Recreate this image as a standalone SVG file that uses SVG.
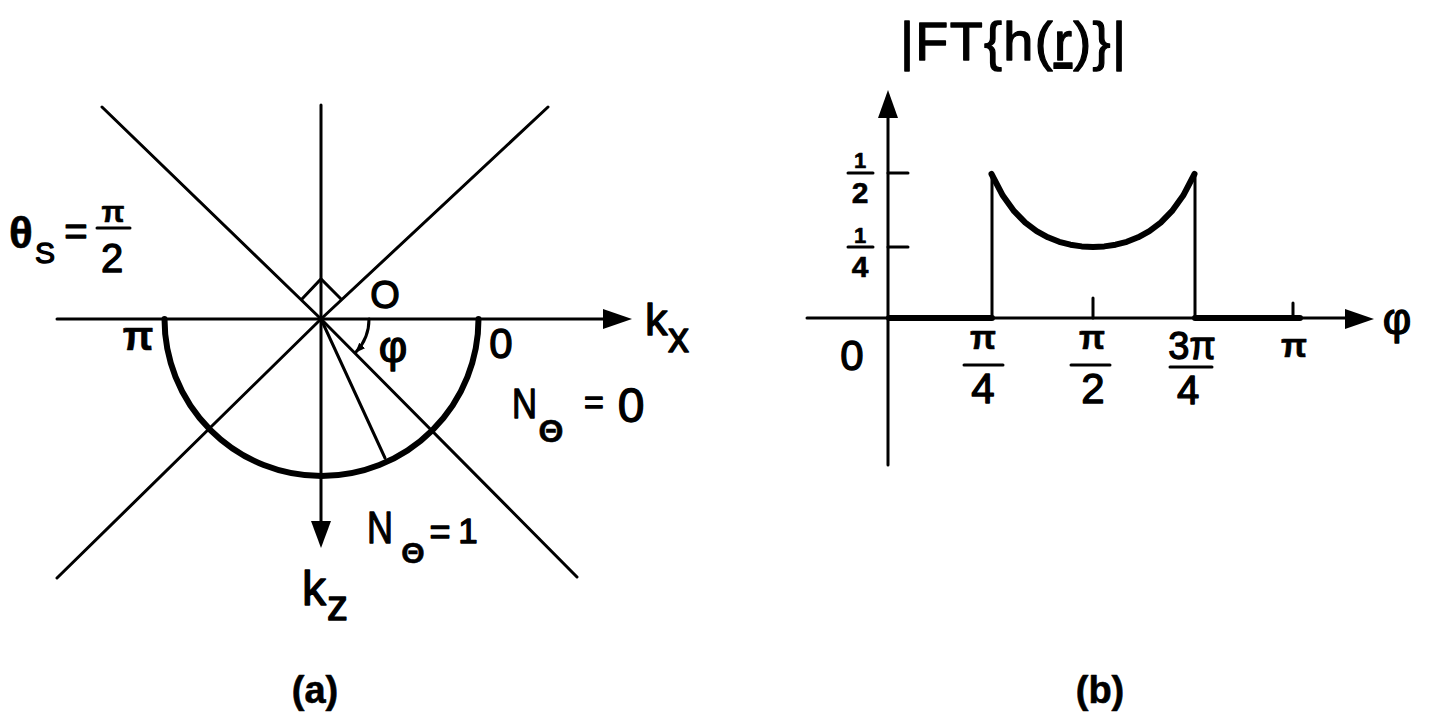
<svg xmlns="http://www.w3.org/2000/svg" width="1434" height="721" viewBox="0 0 1434 721">
<style>
.t{font-family:"Liberation Sans",Arial,sans-serif;fill:#000;stroke:#000;stroke-width:1.3;stroke-linejoin:round}
.b{font-weight:bold;stroke-width:0.6}
.m{text-anchor:middle}
.ln{stroke:#000;stroke-width:3;fill:none;stroke-linecap:round}
.th{stroke:#000;stroke-width:6;fill:none;stroke-linecap:round;stroke-linejoin:round}
</style>
<defs>
<marker id="ah" markerWidth="10" markerHeight="8" refX="9" refY="4" orient="auto" markerUnits="userSpaceOnUse"><path d="M0,0 L10,4 L0,8 Z" fill="#000"/></marker>
</defs>
<rect width="1434" height="721" fill="#fff"/>

<g id="diagram-a">
  <g id="a-lines">
    <line class="ln" x1="57" y1="319" x2="606" y2="319"/>
    <polygon points="632,319 603,309 603,329" fill="#000"/>
    <line class="ln" x1="321" y1="105" x2="321" y2="525"/>
    <polygon points="321,548 311,521 331,521" fill="#000"/>
    <polyline class="ln" points="102,107 321,319 577,577"/>
    <polyline class="ln" points="548,107 321,319 57,578"/>
    <path class="th" d="M164.5,319 A157,157 0 0 0 478.5,319"/>
    <line class="ln" x1="321" y1="319" x2="385" y2="458"/>
    <polyline class="ln" points="302,299 321,279 341,299"/>
    <path class="ln" d="M369,319 A48,48 0 0 1 356,352" marker-end="url(#ah)"/>
    <line class="ln" x1="97" y1="228" x2="130" y2="228"/>
  </g>
  <g id="a-labels">
    <text class="t m b" x="21" y="248" font-size="44">θ</text>
    <text class="t m" x="45" y="263" font-size="30">S</text>
    <text class="t m" x="76" y="245" font-size="40">=</text>
    <text class="t m b" x="113" y="222" font-size="30">π</text>
    <text class="t m" x="112" y="272" font-size="40">2</text>
    <text class="t m" x="385" y="308" font-size="38">O</text>
    <text class="t m b" x="138" y="350" font-size="40">π</text>
    <text class="t m" x="501" y="358" font-size="42">0</text>
    <text class="t m" x="393" y="362" font-size="44">φ</text>
    <text class="t" x="645" y="335" font-size="45">k</text>
    <text class="t" x="668" y="352" font-size="42">x</text>
    <text class="t" x="512" y="418" font-size="43" textLength="25" lengthAdjust="spacingAndGlyphs">N</text>
    <text class="t m b" x="551" y="442" font-size="32">Θ</text>
    <text class="t m" x="594" y="414" font-size="34">=</text>
    <text class="t m" x="631" y="422" font-size="48">0</text>
    <text class="t" x="367" y="543" font-size="45" textLength="26" lengthAdjust="spacingAndGlyphs">N</text>
    <text class="t m b" x="413" y="563" font-size="30">Θ</text>
    <text class="t m" x="440" y="544" font-size="36">=</text>
    <text class="t m" x="468" y="543" font-size="35">1</text>
    <text class="t" x="302" y="605" font-size="48">k</text>
    <text class="t" x="327" y="620" font-size="42">z</text>
    <text class="t m b" x="315" y="703" font-size="38">(a)</text>
  </g>
</g>

<g id="diagram-b">
  <g id="b-lines">
    <line class="ln" x1="888" y1="465" x2="888" y2="115"/>
    <polygon points="888,90 878,118 898,118" fill="#000"/>
    <line class="ln" x1="807" y1="318" x2="1348" y2="318"/>
    <polygon points="1374,319 1345,309 1345,329" fill="#000"/>
    <line class="th" x1="889" y1="318" x2="992" y2="318"/>
    <line class="th" x1="1195" y1="318" x2="1300" y2="318"/>
    <line class="ln" x1="888" y1="173" x2="908" y2="173"/>
    <line class="ln" x1="888" y1="247" x2="908" y2="247"/>
    <line class="ln" x1="1093" y1="298" x2="1093" y2="318"/>
    <line class="ln" x1="1293" y1="303" x2="1293" y2="318"/>
    <line class="ln" x1="992" y1="318" x2="992" y2="174"/>
    <line class="ln" x1="1195" y1="318" x2="1195" y2="174"/>
    <polyline class="th" points="991.5,174 1002.8,195.6 1014.1,211.2 1025.3,222.7 1036.6,231.1 1047.9,237.3 1059.2,241.8 1070.4,244.7 1081.7,246.4 1093,247 1104.3,246.4 1115.6,244.7 1126.8,241.8 1138.1,237.3 1149.4,231.1 1160.7,222.7 1171.9,211.2 1183.2,195.6 1194.5,174"/>
    <line class="ln" x1="848" y1="173" x2="873" y2="173"/>
    <line class="ln" x1="848" y1="247" x2="873" y2="247"/>
    <line class="ln" x1="964" y1="365" x2="1003" y2="365"/>
    <line class="ln" x1="1071" y1="365" x2="1110" y2="365"/>
    <line class="ln" x1="1170" y1="367" x2="1212" y2="367"/>
  </g>
  <g id="b-labels">
    <text class="t" x="900" y="60" font-size="54" textLength="226" lengthAdjust="spacing">|FT{h(<tspan text-decoration="underline">r</tspan>)}|</text>
    <text class="t m b" x="860" y="168" font-size="22">1</text>
    <text class="t m b" x="860" y="203" font-size="30">2</text>
    <text class="t m b" x="860" y="243" font-size="22">1</text>
    <text class="t m b" x="860" y="277" font-size="30">4</text>
    <text class="t m" x="852" y="370" font-size="42">0</text>
    <text class="t m b" x="983" y="349" font-size="34">π</text>
    <text class="t m" x="983" y="403" font-size="42">4</text>
    <text class="t m b" x="1092" y="349" font-size="34">π</text>
    <text class="t m" x="1093" y="403" font-size="42">2</text>
    <text class="t m" x="1192" y="359" font-size="38">3π</text>
    <text class="t m" x="1188" y="404" font-size="40">4</text>
    <text class="t m b" x="1294" y="357" font-size="34">π</text>
    <text class="t m" x="1397" y="334" font-size="44">φ</text>
    <text class="t m b" x="1100" y="703" font-size="38">(b)</text>
  </g>
</g>
</svg>
